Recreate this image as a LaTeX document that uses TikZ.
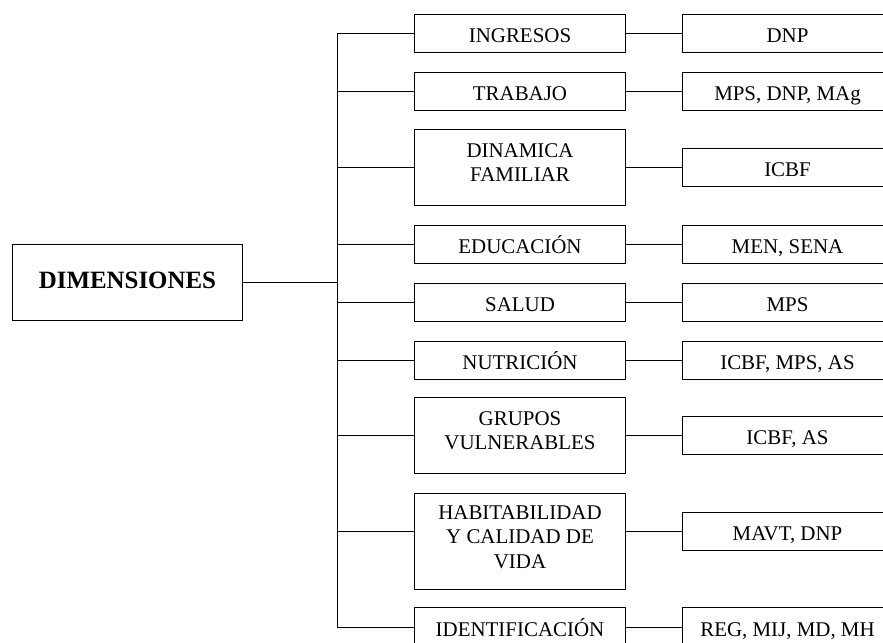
\documentclass[tikz,border=0pt]{standalone}
\usepackage{fontspec}
\setmainfont{Liberation Serif}
\begin{document}
\begin{tikzpicture}[x=1bp,y=-1bp,line width=1.5bp,
  box/.style={draw,inner sep=0pt,minimum width=211bp,minimum height=38bp,
    font=\fontsize{21}{25}\selectfont,text height=18pt,text depth=0pt},
  box2/.style={box,align=center,text height=40pt,text depth=11pt,minimum height=76bp},
  box3/.style={box,align=center,text height=65pt,text depth=10pt,minimum height=96bp},
  rbox/.style={box,minimum width=210bp}]
\useasboundingbox (0,0) rectangle (883,643);
\clip (0,0) rectangle (883,643);
% root
\node[draw,inner sep=0pt,minimum width=230bp,minimum height=76bp,
  font=\fontsize{25}{30}\selectfont\bfseries,text height=16pt,text depth=3pt] (dim) at (127.5,282.5) {DIMENSIONES};
% middle column
\node[box]  (m1) at (520,33.5)  {INGRESOS};
\node[box]  (m2) at (520,91.5)  {TRABAJO};
\node[box2] (m3) at (520,167.5) {DINAMICA\\FAMILIAR};
\node[box]  (m4) at (520,244.5) {EDUCACIÓN};
\node[box]  (m5) at (520,302.5) {SALUD};
\node[box]  (m6) at (520,360.5) {NUTRICIÓN};
\node[box2] (m7) at (520,435.5) {GRUPOS\\VULNERABLES};
\node[box3] (m8) at (520,541.5) {HABITABILIDAD\\Y CALIDAD DE\\VIDA};
\node[box,minimum height=40bp] (m9) at (520,627.5) {IDENTIFICACIÓN};
% right column
\node[rbox] (r1) at (787.5,33.5)  {DNP};
\node[rbox] (r2) at (787.5,91.5)  {MPS, DNP, MAg};
\node[rbox] (r3) at (787.5,167.5) {ICBF};
\node[rbox] (r4) at (787.5,244.5) {MEN, SENA};
\node[rbox] (r5) at (787.5,302.5) {MPS};
\node[rbox] (r6) at (787.5,360.5) {ICBF, MPS, AS};
\node[rbox] (r7) at (787.5,435.5) {ICBF, AS};
\node[rbox] (r8) at (787.5,531.5) {MAVT, DNP};
\node[rbox,minimum height=40bp] (r9) at (787.5,627.5) {REG, MIJ, MD, MH};
% bus
\coordinate (bus) at (337.5,0);
\draw (dim.east) -- (dim.east -| bus);
\draw (r1.west -| bus) -- (r9.west -| bus);
\foreach \i in {1,...,9}{
  \draw (r\i.west -| bus) -- (r\i.west -| m\i.west);
  \draw (r\i.west -| m\i.east) -- (r\i.west);
}
\end{tikzpicture}
\end{document}
